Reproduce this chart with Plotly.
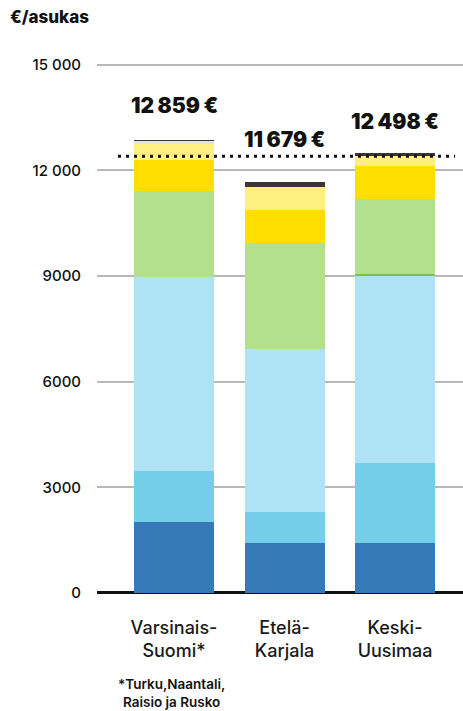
import plotly.graph_objects as go

# Regions on the x axis
regions = ["Varsinais-<br>Suomi*", "Etelä-<br>Karjala", "Keski-<br>Uusimaa"]

# Stacked cost components, €/resident, bottom to top
comp_1 = [2025, 1420, 1420]
comp_2 = [1441, 881, 2273]
comp_3 = [5492, 4631, 5333]
comp_4 = [0, 0, 30]
comp_5 = [2443, 2992, 2138]
comp_6 = [881, 957, 937]
comp_7 = [455, 645, 264]
comp_8 = [110, 0, 0]
comp_9 = [12, 153, 103]

totals = [12859, 11679, 12498]
reference_level = 12400

y_tickvals = [0, 3000, 6000, 9000, 12000, 15000]
y_ticktext = ["0", "3000", "6000", "9000", "12 000", "15 000"]

components = [comp_1, comp_2, comp_3, comp_4, comp_5, comp_6, comp_7, comp_8, comp_9]
colors = ["#3679b8", "#74cde9", "#aee2f4", "#79c445", "#b3e08c",
          "#ffde00", "#ffee80", "#e3e3e3", "#3d3630"]

FONT = "Inter"
x_pos = list(range(len(regions)))

fig = go.Figure()
for vals, col in zip(components, colors):
    fig.add_trace(go.Bar(
        x=x_pos, y=vals, width=0.724,
        marker=dict(color=col, line=dict(width=0)),
        hoverinfo="skip", showlegend=False,
    ))

# Reference level (dotted)
fig.add_shape(type="line", xref="x", yref="y",
              x0=-0.507, x1=2.543, y0=reference_level, y1=reference_level,
              line=dict(color="#111111", width=3, dash="3px,5px"), layer="above")

# Total labels above each bar
label_shift = [20, 28, 17]
for i, t in enumerate(totals):
    txt = f"{t:,}".replace(",", "\u2006") + "\u2006€"
    fig.add_annotation(x=i, y=t, text=txt, showarrow=False, yanchor="bottom",
                       yshift=label_shift[i],
                       font=dict(family=FONT, size=21, color="#111111", weight=900))

# Unit title
fig.add_annotation(xref="paper", yref="paper", x=-0.243, y=1.041, xanchor="left",
                   yanchor="middle", text="€/asukas", showarrow=False,
                   font=dict(family=FONT, size=17, color="#111111", weight=800))

# Footnote
fig.add_annotation(xref="x", yref="paper", x=-0.02, y=-0.132, xanchor="center",
                   yanchor="top", text="*Turku,Naantali,<br>Raisio ja Rusko",
                   showarrow=False, align="center",
                   font=dict(family=FONT, size=13.5, color="#111111", weight=600))

fig.update_layout(
    width=463, height=711,
    margin=dict(l=97, r=0, t=40, b=111),
    paper_bgcolor="white", plot_bgcolor="white",
    barmode="stack", bargap=0,
    font=dict(family=FONT, color="#111111"),
    xaxis=dict(range=[-0.697, 2.615], tickvals=x_pos, ticktext=regions,
               showgrid=False, zeroline=False, showline=False, ticks="",
               ticklabelstandoff=15,
               tickfont=dict(family=FONT, size=18, color="#1a1a1a", weight=500),
               fixedrange=True),
    yaxis=dict(range=[-200, 15700], tickvals=y_tickvals, ticktext=y_ticktext,
               showgrid=True, gridcolor="#b8b8b8", gridwidth=1.5,
               zeroline=True, zerolinecolor="#111111", zerolinewidth=2.5,
               showline=False, ticks="", ticklabelstandoff=15,
               tickfont=dict(family=FONT, size=15, color="#111111", weight=500),
               fixedrange=True),
)

fig.write_html("out.html")
